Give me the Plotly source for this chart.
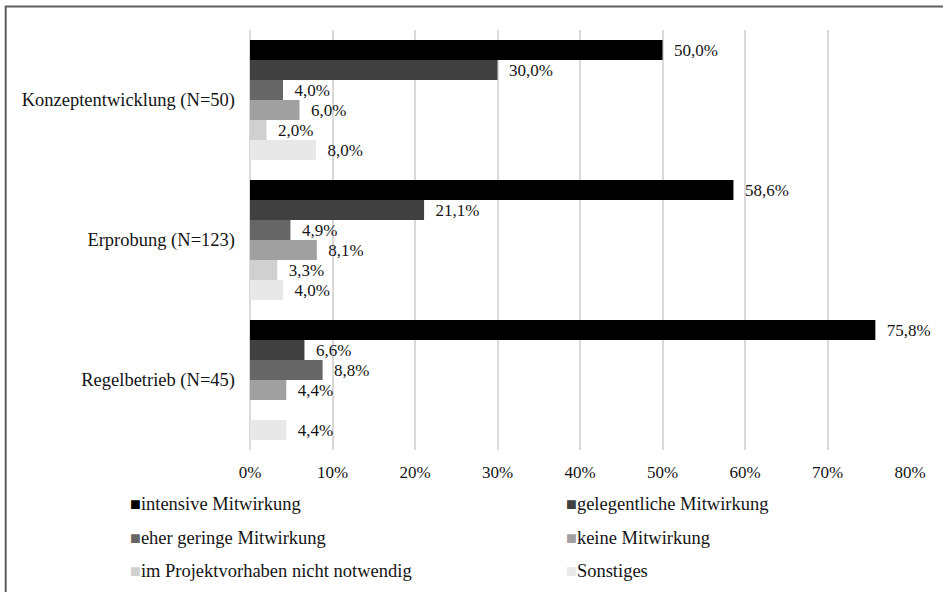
import plotly.graph_objects as go

# Phases (top to bottom) and participation categories
phases = ["Konzeptentwicklung (N=50)", "Erprobung (N=123)", "Regelbetrieb (N=45)"]
series_names = [
    "intensive Mitwirkung",
    "gelegentliche Mitwirkung",
    "eher geringe Mitwirkung",
    "keine Mitwirkung",
    "im Projektvorhaben nicht notwendig",
    "Sonstiges",
]
series_colors = ["#000000", "#404040", "#666666", "#a0a0a0", "#d0d0d0", "#e8e8e8"]

# Shares in percent per phase (None = no answer in this category)
intensive = [50.0, 58.6, 75.8]
gelegentlich = [30.0, 21.1, 6.6]
eher_gering = [4.0, 4.9, 8.8]
keine = [6.0, 8.1, 4.4]
nicht_notwendig = [2.0, 3.3, None]
sonstiges = [8.0, 4.0, 4.4]
series_values = [intensive, gelegentlich, eher_gering, keine, nicht_notwendig, sonstiges]

x_ticks = [0, 10, 20, 30, 40, 50, 60, 70, 80]
x_tick_labels = ["0%", "10%", "20%", "30%", "40%", "50%", "60%", "70%", "80%"]

FONT = "Liberation Serif, Tinos, DejaVu Serif, serif"
TXT = "#141414"


def fmt(v):
    return "" if v is None else f"{v:.1f}".replace(".", ",") + "%"


fig = go.Figure()
for name, color, vals in zip(series_names, series_colors, series_values):
    fig.add_trace(go.Bar(
        name=name,
        y=phases,
        x=vals,
        orientation="h",
        marker=dict(color=color, line=dict(width=0)),
        text=["\u00a0\u00a0" + fmt(v) if v is not None else "" for v in vals],
        textposition="outside",
        constraintext="none",
        cliponaxis=False,
        textfont=dict(family=FONT, size=17, color=TXT),
        showlegend=False,
    ))

# plot area in pixels: x 250..910.5, y 30..450
L, R, T, B = 250, 32.5, 30, 142
W, H = 943, 592
pw, ph = W - L - R, H - T - B


def px_x(px):
    return (px - L) / pw


def px_y(py):
    return (H - B - py) / ph


# legend drawn as two columns of text entries
legend_cols = [128, 564]
legend_rows = [504, 538, 571]
annotations = []
for i, (name, color) in enumerate(zip(series_names, series_colors)):
    col, row = i % 2, i // 2
    annotations.append(dict(
        xref="paper", yref="paper",
        x=px_x(legend_cols[col]), y=px_y(legend_rows[row]),
        xanchor="left", yanchor="middle", showarrow=False,
        text=f'<span style="color:{color};font-size:18px">■</span>{name}',
        font=dict(family=FONT, size=18.5, color=TXT),
    ))

# outer frame
shapes = [dict(
    type="rect", xref="paper", yref="paper",
    x0=px_x(5.5), x1=px_x(960), y0=px_y(610), y1=px_y(6.5),
    line=dict(color="#5f5f5f", width=2), fillcolor="rgba(0,0,0,0)", layer="below",
)]

fig.update_layout(
    width=W, height=H,
    margin=dict(l=L, r=R, t=T, b=B, pad=0),
    paper_bgcolor="white", plot_bgcolor="white",
    barmode="group", bargap=20 / 140, bargroupgap=0,
    separators=",.",
    font=dict(family=FONT, size=17, color=TXT),
    showlegend=False,
    annotations=annotations,
    shapes=shapes,
    xaxis=dict(
        range=[0, 80], tickvals=x_ticks, ticktext=x_tick_labels,
        showgrid=True, gridcolor="#d9d9d9", gridwidth=1.5,
        zeroline=True, zerolinecolor="#d9d9d9", zerolinewidth=1.5,
        showline=False, ticks="", ticklabelstandoff=10,
        tickfont=dict(family=FONT, size=17, color=TXT),
    ),
    yaxis=dict(
        autorange="reversed", showgrid=False, zeroline=False, showline=False,
        ticks="", ticklabelstandoff=14,
        tickfont=dict(family=FONT, size=18.5, color=TXT),
    ),
)

fig.write_html("out.html")
